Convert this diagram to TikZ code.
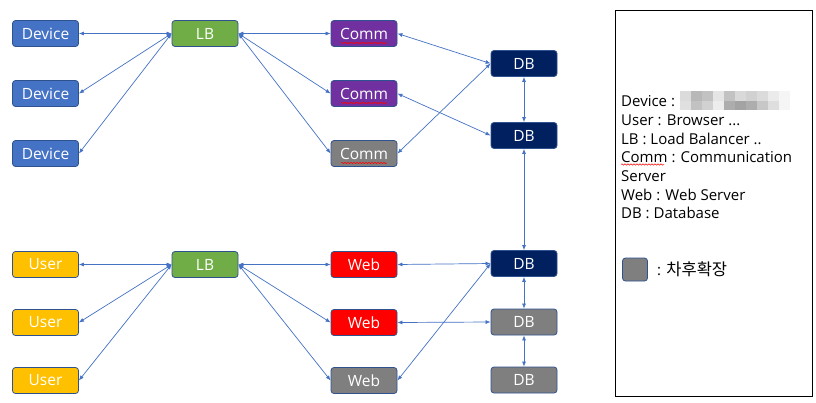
\documentclass[tikz,border=0pt]{standalone}
\usepackage{fontspec}
\setmainfont{Open Sans}
\newfontfamily\krfont{Noto Sans CJK KR}
\usetikzlibrary{arrows.meta,decorations.pathmorphing}
\definecolor{devc}{HTML}{4472C4}
\definecolor{bordc}{HTML}{2F528F}
\definecolor{lbc}{HTML}{70AD47}
\definecolor{commc}{HTML}{7030A0}
\definecolor{grayc}{HTML}{7F7F7F}
\definecolor{dbc}{HTML}{002060}
\definecolor{webc}{HTML}{FF0000}
\definecolor{userc}{HTML}{FFC000}
\definecolor{linkc}{HTML}{4472C4}
\begin{document}
\begin{tikzpicture}[x=1pt,y=-1pt,
  box/.style={rectangle, rounded corners=3pt, minimum width=66pt, minimum height=26pt,
    draw=bordc, line width=0.8pt, text=white, inner sep=0pt,
    font=\fontsize{15.5}{17}\selectfont},
  devbox/.style={box, fill=devc},
  lbbox/.style={box, fill=lbc},
  commbox/.style={box, fill=commc},
  graybox/.style={box, fill=grayc},
  dbbox/.style={box, fill=dbc},
  webbox/.style={box, fill=webc},
  userbox/.style={box, fill=userc},
  link/.style={draw=linkc, line width=0.7pt,
    {Latex[length=5pt,width=4pt]}-{Latex[length=5pt,width=4pt]}},
  wavy/.style={draw=red, line width=0.5pt, decorate,
    decoration={snake, segment length=3pt, amplitude=0.7pt}},
  legtext/.style={anchor=west, inner sep=0pt, font=\fontsize{15}{17}\selectfont}
]
\fill[white] (0,0) rectangle (816,402);
\useasboundingbox (0,0) rectangle (816,402);

% top section
\node[devbox] (d1) at (45.5,33.5) {Device};
\node[devbox] (d2) at (45.5,93.5) {Device};
\node[devbox] (d3) at (45.5,153.5) {Device};
\node[lbbox] (lb1) at (205,33.5) {LB};
\node[commbox] (c1) at (364,33.5) {Comm};
\node[commbox] (c2) at (364,93.5) {Comm};
\node[graybox] (c3) at (364,153.5) {Comm};
\node[dbbox] (db1) at (524,63.5) {DB};
\node[dbbox] (db2) at (524,135.5) {DB};

% bottom section
\node[userbox] (u1) at (45.5,264.5) {User};
\node[userbox] (u2) at (45.5,322.5) {User};
\node[userbox] (u3) at (45.5,380.5) {User};
\node[lbbox] (lb2) at (205,264.5) {LB};
\node[webbox] (w1) at (364,264.5) {Web};
\node[webbox] (w2) at (364,322.5) {Web};
\node[graybox] (w3) at (364,380.5) {Web};
\node[dbbox] (db3) at (524,263.5) {DB};
\node[graybox] (db4) at (524,322) {DB};
\node[graybox] (db5) at (524,380) {DB};

% spell-check underlines
\foreach \n in {c1,c2,c3}
  \draw[wavy] ([xshift=-23pt,yshift=-9.5pt]\n.center) -- ([xshift=23pt,yshift=-9.5pt]\n.center);

% connectors top
\draw[link] (d1.east) -- (lb1.west);
\draw[link] (d2.east) -- (lb1.west);
\draw[link] (d3.east) -- (lb1.west);
\draw[link] (lb1.east) -- (c1.west);
\draw[link] (lb1.east) -- (c2.west);
\draw[link] (lb1.east) -- (c3.west);
\draw[link] (c1.east) -- (db1.west);
\draw[link] (c2.east) -- (db2.west);
\draw[link] (c3.east) -- (db1.west);
\draw[link] (db1.south) -- (db2.north);
\draw[link] (db2.south) -- (db3.north);

% connectors bottom
\draw[link] (u1.east) -- (lb2.west);
\draw[link] (u2.east) -- (lb2.west);
\draw[link] (u3.east) -- (lb2.west);
\draw[link] (lb2.east) -- (w1.west);
\draw[link] (lb2.east) -- (w2.west);
\draw[link] (lb2.east) -- (w3.west);
\draw[link] (w1.east) -- (db3.west);
\draw[link] (w2.east) -- (db4.west);
\draw[link] (w3.east) -- (db3.west);
\draw[link] (db3.south) -- (db4.north);
\draw[link] (db4.south) -- (db5.north);

% legend
\draw[black, line width=1pt] (615,10) rectangle (812,396);
\node[legtext] (l1) at (621,101) {Device :};
\node[legtext] (l2) at (621,120) {User : Browser ...};
\node[legtext] (l3) at (621,138.5) {LB : Load Balancer ..};
\node[legtext] (l4) at (621,157) {Comm : Communication};
\node[legtext] (l5) at (621,176) {Server};
\node[legtext] (l6) at (621,194.5) {Web : Web Server};
\node[legtext] (l7) at (621,213) {DB : Database};
\draw[wavy] ([yshift=-7.5pt]l4.west) -- ++(43,0);

% blurred region
\foreach \g [count=\i from 0] in {86,72,76,90,76,85,82,86,92,96}
  \fill[black!\the\numexpr100-\g\relax] (680+11*\i,91) rectangle ++(11,9.5);
\foreach \g [count=\i from 0] in {88,76,82,93,68,64,68,78,87,96}
  \fill[black!\the\numexpr100-\g\relax] (680+11*\i,100.5) rectangle ++(11,9.5);

\node[graybox, minimum width=25pt, minimum height=23pt] (lg) at (635,269.5) {};
\node[anchor=west, inner sep=0pt, font=\fontsize{15}{17}\selectfont] (lgt) at (657,269.5) {: {\krfont\fontsize{16.5}{18}\selectfont 차후확장}};
\end{tikzpicture}
\end{document}
